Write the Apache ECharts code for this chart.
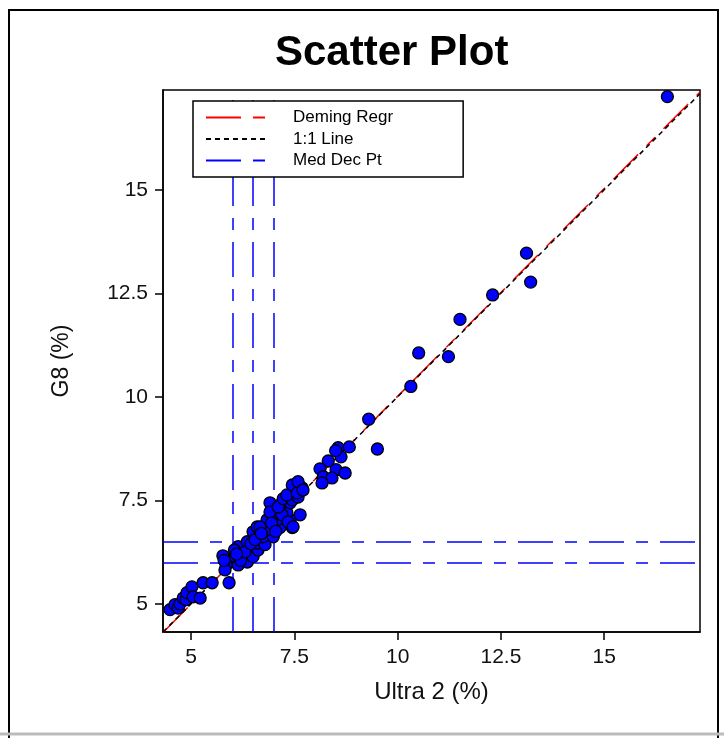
<!DOCTYPE html>
<html>
<head>
<meta charset="utf-8">
<script src="https://cdn.jsdelivr.net/npm/echarts@6/dist/echarts.min.js"></script>
<style>
html,body{margin:0;padding:0;background:#fff;}
#chart{width:724px;height:738px;}
</style>
</head>
<body>
<div id="chart"></div>
<script>
// Data
const ultra2 = [4.49,4.61,4.69,4.73,4.81,4.88,4.90,5.02,5.05,5.22,5.29,5.51,5.92,5.77,5.85,5.82,6.07,6.14,6.23,6.36,6.14,6.43,6.50,6.62,6.36,6.60,6.79,6.50,6.74,6.99,6.60,6.84,7.15,7.45,6.84,7.08,7.40,7.03,7.32,7.64,6.91,7.15,7.40,6.91,7.20,7.35,7.47,6.67,7.11,7.23,7.45,7.32,7.59,7.45,7.69,7.57,7.59,7.71,
  6.05,6.20,6.30,6.45,6.55,6.70,6.95,7.05,6.10,5.80,
  8.56,8.83,8.63,8.32,8.12,8.51,8.73,8.20,8.41,8.17,8.50,
  9.30,9.51,10.32,10.51,11.23,11.51,12.30,13.12,13.22,16.53];
const g8 = [4.86,4.98,4.90,5.00,5.14,5.10,5.27,5.41,5.17,5.14,5.51,5.51,5.51,6.16,5.94,5.82,6.14,5.94,6.18,6.01,6.38,6.30,6.14,6.30,6.50,6.47,6.43,6.74,6.62,6.62,6.86,6.79,6.84,6.84,7.03,7.03,7.03,7.20,7.20,7.15,7.44,7.39,7.44,7.22,7.15,6.98,6.86,6.86,7.34,7.54,7.51,7.63,7.58,7.87,7.80,7.68,7.95,7.75,
  6.30,6.05,6.25,6.45,6.55,6.70,6.95,6.75,6.20,6.05,
  8.77,8.79,8.55,8.45,8.26,8.24,8.16,8.07,8.04,7.92,8.70,
  9.46,8.74,10.25,11.06,10.97,11.87,12.46,13.47,12.77,17.25];
const xRange = [4.32, 17.32];
const yRange = [4.32, 17.41];
const tickValues = [5, 7.5, 10, 12.5, 15];
const demingLine = [[4.32, 4.31], [17.32, 17.36]];
const identityLine = [[4.32, 4.32], [17.32, 17.32]];
const medDecX = [6.0, 6.5, 7.0];
const medDecY = [6.0, 6.5];
const legendNames = ['Deming Regr', '1:1 Line', 'Med Dec Pt'];

const points = ultra2.map((x, i) => [x, g8[i]]);
const FONT = '"Liberation Sans", Arial, sans-serif';

const chart = echarts.init(document.getElementById('chart'), null, {renderer: 'canvas'});
const option = {
  animation: false,
  backgroundColor: '#fff',
  title: {
    text: 'Scatter Plot',
    left: 270, top: 27,
    textStyle: {fontFamily: FONT, fontWeight: 'bold', fontSize: 42, color: '#000'}
  },
  graphic: [
    {type: 'polyline', shape: {points: [[9, 738], [9, 10], [718, 10], [718, 738]]}, style: {stroke: '#000', lineWidth: 2, fill: null}, silent: true},
    {type: 'line', shape: {x1: 0, y1: 734, x2: 724, y2: 734}, style: {stroke: '#bbb', lineWidth: 3}, silent: true}
  ],
  grid: {left: 163, right: 24, top: 90, bottom: 106, show: true, borderColor: '#000', borderWidth: 1.5, backgroundColor: 'transparent'},
  legend: {
    data: legendNames,
    orient: 'vertical',
    left: 193, top: 101,
    z: 20,
    itemWidth: 60, itemHeight: 14, itemGap: 4.5,
    padding: [8, 70, 8, 12],
    backgroundColor: '#fff',
    borderColor: '#000', borderWidth: 1.5, borderRadius: 0,
    itemStyle: {opacity: 0, borderWidth: 0},
    textStyle: {fontFamily: FONT, fontSize: 17, color: '#000', padding: [0, 0, 0, 22]}
  },
  xAxis: {
    type: 'value', min: xRange[0], max: xRange[1],
    name: 'Ultra 2 (%)', nameLocation: 'middle', nameGap: 48,
    nameTextStyle: {fontFamily: FONT, fontSize: 24, color: '#111'},
    axisLine: {onZero: false, lineStyle: {color: '#000', width: 1.5}},
    axisTick: {customValues: tickValues, inside: false, length: 8, lineStyle: {color: '#000', width: 1.5}},
    axisLabel: {customValues: tickValues, margin: 15, fontFamily: FONT, fontSize: 21, color: '#111'},
    splitLine: {show: false}
  },
  yAxis: {
    type: 'value', min: yRange[0], max: yRange[1],
    name: 'G8 (%)', nameLocation: 'middle', nameGap: 90, nameRotate: 90,
    nameTextStyle: {fontFamily: FONT, fontSize: 23, color: '#111'},
    axisLine: {onZero: false, lineStyle: {color: '#000', width: 1.5}},
    axisTick: {customValues: tickValues, inside: false, length: 8, lineStyle: {color: '#000', width: 1.5}},
    axisLabel: {customValues: tickValues, margin: 15, fontFamily: FONT, fontSize: 21, color: '#111'},
    splitLine: {show: false}
  },
  series: [
    {
      name: legendNames[0], type: 'line', data: demingLine, symbol: 'none', silent: true, z: 2,
      lineStyle: {color: '#ff0000', width: 1.5, type: [35, 12, 12, 12]}, itemStyle: {color: '#ff0000'}
    },
    {
      name: legendNames[1], type: 'line', data: identityLine, symbol: 'none', silent: true, z: 3,
      lineStyle: {color: '#000', width: 1.5, type: [5, 4]}, itemStyle: {color: '#000'}
    },
    {
      name: legendNames[2], type: 'line', data: [], symbol: 'none', silent: true, z: 3,
      lineStyle: {color: '#0000ff', width: 1.5, type: [35, 12, 12, 12]}, itemStyle: {color: '#0000ff'},
      markLine: {
        silent: true, symbol: 'none', label: {show: false}, animation: false, z: 3,
        lineStyle: {color: '#0000ff', width: 1.5, type: [35, 12, 12, 12]},
        data: medDecX.map(v => ({xAxis: v})).concat(medDecY.map(v => ({yAxis: v})))
      }
    },
    {
      name: 'points', type: 'scatter', data: points, symbol: 'circle', symbolSize: 12, z: 5,
      itemStyle: {color: '#0000ff', borderColor: '#000', borderWidth: 1.3, opacity: 1}
    }
  ]
};
chart.setOption(option);
</script>
</body>
</html>
